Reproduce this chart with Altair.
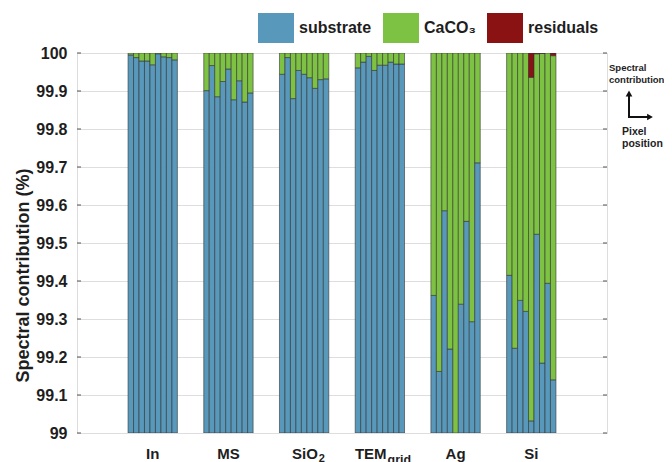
import altair as alt
import pandas as pd

FONT = "Liberation Sans"
TXT = "#1e1e1e"

# ---------------- data ----------------
groups = ["In", "MS", "SiO2", "TEMgrid", "Ag", "Si"]
group_pos = [1, 2, 3, 4, 5, 6]

# substrate contribution (%) of the 9 pixels in each sample
sub_In = [99.995, 99.988, 99.979, 99.979, 99.969, 99.998, 99.990, 99.988, 99.982]
sub_MS = [99.901, 99.967, 99.885, 99.925, 99.958, 99.877, 99.927, 99.871, 99.895]
sub_SiO2 = [99.944, 99.988, 99.880, 99.954, 99.944, 99.935, 99.907, 99.930, 99.932]
sub_TEM = [99.961, 99.976, 99.991, 99.954, 99.968, 99.968, 99.976, 99.971, 99.971]
sub_Ag = [99.362, 99.162, 99.585, 99.221, 99.000, 99.339, 99.557, 99.293, 99.711]
sub_Si = [99.415, 99.223, 99.349, 99.320, 99.032, 99.523, 99.184, 99.394, 99.140]

# residual contribution (%) (top of each bar); CaCO3 fills the rest up to 100 %
res_In = [0, 0, 0, 0, 0, 0, 0, 0, 0]
res_MS = [0, 0, 0, 0, 0, 0, 0, 0, 0]
res_SiO2 = [0, 0, 0, 0, 0, 0, 0, 0, 0]
res_TEM = [0, 0, 0, 0, 0, 0, 0, 0, 0]
res_Ag = [0, 0, 0, 0, 0, 0, 0, 0, 0]
res_Si = [0, 0, 0, 0, 0.064, 0.002, 0.001, 0, 0.007]

substrate = [sub_In, sub_MS, sub_SiO2, sub_TEM, sub_Ag, sub_Si]
residuals = [res_In, res_MS, res_SiO2, res_TEM, res_Ag, res_Si]

components = ["substrate", "CaCO₃", "residuals"]
colors = ["#5898ba", "#7dc243", "#8b1212"]

y_ticks = [99.0, 99.1, 99.2, 99.3, 99.4, 99.5, 99.6, 99.7, 99.8, 99.9, 100.0]

label_main = ["In", "MS", "SiO", "TEM", "Ag", "Si"]
label_sub = ["", "", "2", "grid", "", ""]

# ---------------- table ----------------
BAR_W = 0.0724
rows = []
for g, pos, subs, res in zip(groups, group_pos, substrate, residuals):
    for j, (s, r) in enumerate(zip(subs, res)):
        x0 = pos - 4.5 * BAR_W + j * BAR_W
        x1 = x0 + BAR_W
        top_c = 100.0 - r
        for comp, a, b in [("substrate", 99.0, s), ("CaCO₃", s, top_c), ("residuals", top_c, 100.0)]:
            if b - a > 1e-9:
                rows.append(dict(group=g, bar=j, component=comp, x0=x0, x1=x1, y0=a, y1=b))
df = pd.DataFrame(rows)

xs = alt.Scale(domain=[0, 7], nice=False, zero=False)
ys = alt.Scale(domain=[99, 100], nice=False, zero=False)

Y_TITLE = "Spectral contribution (%)"
y_axis = alt.Axis(
    values=y_ticks, format=".1~f", grid=True, gridColor="#dedede", gridWidth=1,
    ticks=False, tickSize=0, domain=False,
    labelFont=FONT, labelFontSize=16, labelFontWeight="bold", labelColor=TXT, labelPadding=10,
    titleFont=FONT, titleFontSize=18, titleFontWeight="bold",
    titleColor=TXT, titleAngle=270, titleX=-54, titleY=222, titleAlign="center", titleBaseline="middle",
)

bars = alt.Chart(df).mark_rect(stroke="#333333", strokeWidth=0.7, strokeOpacity=0.85, clip=True).encode(
    x=alt.X("x0:Q", scale=xs, axis=None),
    x2="x1:Q",
    y=alt.Y("y0:Q", scale=ys, axis=y_axis, title=Y_TITLE),
    y2="y1:Q",
    color=alt.Color(
        "component:N",
        scale=alt.Scale(domain=components, range=colors),
        legend=alt.Legend(
            title=None, orient="none", legendX=184, legendY=-40, direction="horizontal",
            symbolType="M-1.2,-1H1.2V1H-1.2Z", symbolSize=900, symbolStrokeWidth=0, symbolOpacity=1,
            labelFont=FONT, labelFontSize=16, labelFontWeight="bold", labelColor=TXT,
            labelOffset=8, columnPadding=11, padding=0,
        ),
    ),
)

tick_df = pd.DataFrame({"v": y_ticks})
left_ticks = alt.Chart(tick_df).mark_rule(color="#555555", strokeWidth=1).encode(
    y=alt.Y("v:Q", scale=ys, axis=y_axis, title=Y_TITLE), x=alt.value(0), x2=alt.value(4)
)
right_ticks = alt.Chart(tick_df).mark_rule(color="#555555", strokeWidth=1).encode(
    y=alt.Y("v:Q", scale=ys, axis=y_axis, title=Y_TITLE), x=alt.value(526), x2=alt.value(530)
)

# x category labels
lab_df = pd.DataFrame({"pos": group_pos, "main": label_main, "sub": label_sub})
plain = alt.Chart(lab_df[lab_df["sub"] == ""]).mark_text(
    font=FONT, fontSize=15, fontWeight="bold", color=TXT, align="center", baseline="alphabetic"
).encode(x=alt.X("pos:Q", scale=xs, axis=None), y=alt.value(405.5), text="main:N")

layers = [bars, left_ticks, right_ticks, plain]
sub_offsets = {"SiO": (13.7, 14.6, 3, 11), "TEM": (6.7, 7.7, 5, 12.4)}
for _, row in lab_df[lab_df["sub"] != ""].iterrows():
    main_dx, sub_dx, sub_dy, sub_fs = sub_offsets[row["main"]]
    one = lab_df[lab_df["main"] == row["main"]]
    layers.append(
        alt.Chart(one).mark_text(
            font=FONT, fontSize=15, fontWeight="bold", color=TXT, align="right", baseline="alphabetic", dx=main_dx
        ).encode(x=alt.X("pos:Q", scale=xs, axis=None), y=alt.value(405.5), text="main:N")
    )
    layers.append(
        alt.Chart(one).mark_text(
            font=FONT, fontSize=sub_fs, fontWeight="bold", color=TXT, align="left", baseline="alphabetic",
            dx=sub_dx, dy=sub_dy,
        ).encode(x=alt.X("pos:Q", scale=xs, axis=None), y=alt.value(405.5), text="sub:N")
    )

# right-hand annotation (axes icon)
one_row = pd.DataFrame({"a": [0]})
ann_top = alt.Chart(one_row).mark_text(
    font=FONT, fontSize=9.5, fontWeight="bold", color=TXT, align="left", baseline="alphabetic", lineHeight=11.6
).encode(x=alt.value(532), y=alt.value(18), text=alt.value(["Spectral", "contribution"]))
ann_bot = alt.Chart(one_row).mark_text(
    font=FONT, fontSize=10.5, fontWeight="bold", color=TXT, align="left", baseline="alphabetic", lineHeight=11.6
).encode(x=alt.value(545), y=alt.value(82.3), text=alt.value(["Pixel", "position"]))
v_arrow = alt.Chart(one_row).mark_rule(color="#111111", strokeWidth=2).encode(
    x=alt.value(552), y=alt.value(65), y2=alt.value(42)
)
h_arrow = alt.Chart(one_row).mark_rule(color="#111111", strokeWidth=2).encode(
    x=alt.value(551), x2=alt.value(571), y=alt.value(64)
)
v_head = alt.Chart(one_row).mark_point(shape="triangle-up", filled=True, size=45, color="#111111", opacity=1).encode(
    x=alt.value(552), y=alt.value(40.5)
)
h_head = alt.Chart(one_row).mark_point(shape="triangle-right", filled=True, size=45, color="#111111", opacity=1).encode(
    x=alt.value(573), y=alt.value(64)
)
layers += [ann_top, ann_bot, v_arrow, h_arrow, v_head, h_head]

chart = alt.layer(*layers).properties(
    width=530,
    height=380,
    autosize=alt.AutoSizeParams(type="none"),
    padding={"left": 69, "top": 45, "right": 57, "bottom": 29},
).configure_view(stroke="#8c8c8c", strokeWidth=1.5).configure(background="white")

chart.save("out.html", embed_options={"renderer": "svg", "actions": False})
